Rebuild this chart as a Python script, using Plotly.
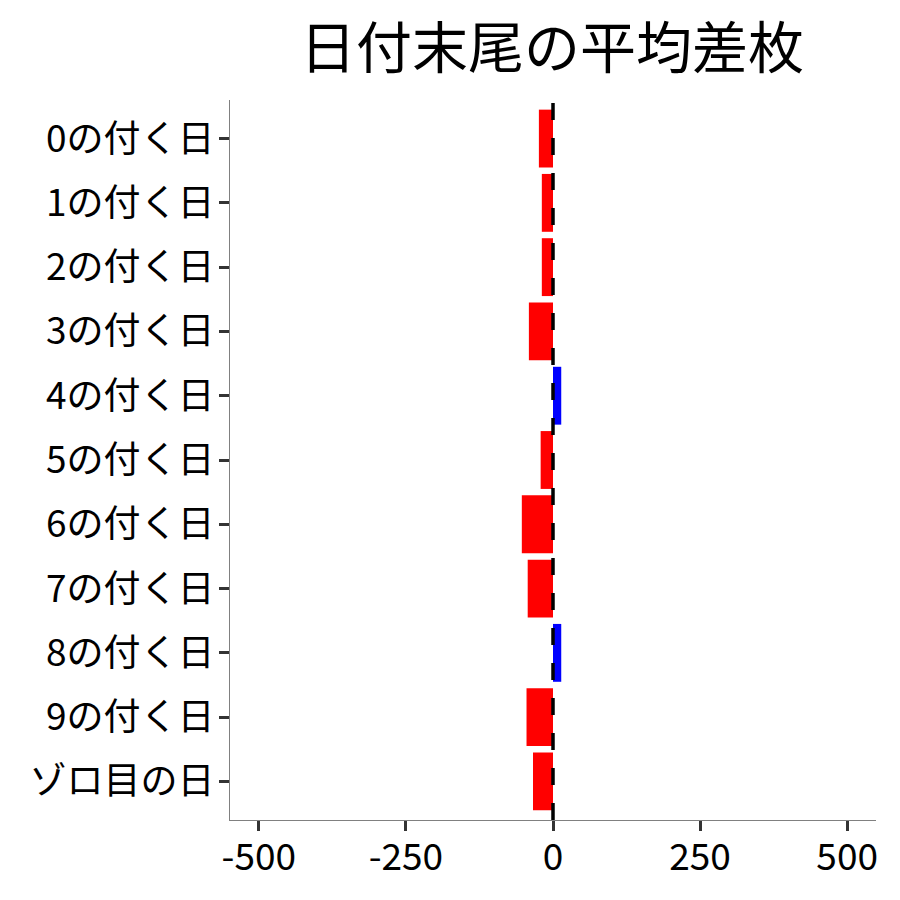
import plotly.graph_objects as go

# 日付末尾ごとの平均差枚
categories = ['0の付く日', '1の付く日', '2の付く日', '3の付く日', '4の付く日',
              '5の付く日', '6の付く日', '7の付く日', '8の付く日', '9の付く日', 'ゾロ目の日']
avg_diff = [-24, -19, -19, -41, 14, -21, -53, -43, 14, -45, -34]
x_ticks = [-500, -250, 0, 250, 500]

colors = ['blue' if v > 0 else 'red' for v in avg_diff]

fig = go.Figure()
fig.add_trace(go.Bar(
    x=avg_diff,
    y=categories,
    orientation='h',
    marker=dict(color=colors, line=dict(width=0)),
    width=0.9,
    showlegend=False,
))

# 0の位置に破線
fig.add_shape(type='line', x0=0, x1=0, y0=0, y1=1, xref='x', yref='paper',
              line=dict(color='black', width=3.5, dash='17px,18px'), layer='above')

font_jp = 'Noto Sans CJK JP'
fig.update_layout(
    width=900, height=900,
    plot_bgcolor='white', paper_bgcolor='white',
    margin=dict(l=222, r=32, t=92, b=88),
    font=dict(family=font_jp, color='black'),
    title=dict(text='日付末尾の平均差枚', x=544 / 900, xanchor='center',
               y=1 - 40 / 900, yanchor='middle',
               font=dict(family=font_jp, size=56, color='black')),
    bargap=0.1,
)
fig.update_xaxes(
    range=[-549, 549], tickvals=x_ticks, ticktext=[str(v) for v in x_ticks],
    showgrid=False, zeroline=False,
    showline=True, linecolor='#808080', linewidth=1.3,
    ticks='outside', ticklen=10, tickwidth=3, tickcolor='#333333',
    ticklabelstandoff=-6,
    tickfont=dict(family=font_jp, size=37, color='black'),
)
fig.update_yaxes(
    categoryorder='array', categoryarray=categories, autorange=False,
    range=[len(categories) - 0.4, -0.6],
    showgrid=False, zeroline=False,
    showline=True, linecolor='#808080', linewidth=1.3,
    ticks='outside', ticklen=10, tickwidth=3, tickcolor='#333333',
    ticklabelstandoff=-3,
    tickfont=dict(family=font_jp, size=37, color='black'),
)

fig.write_html('out.html')
